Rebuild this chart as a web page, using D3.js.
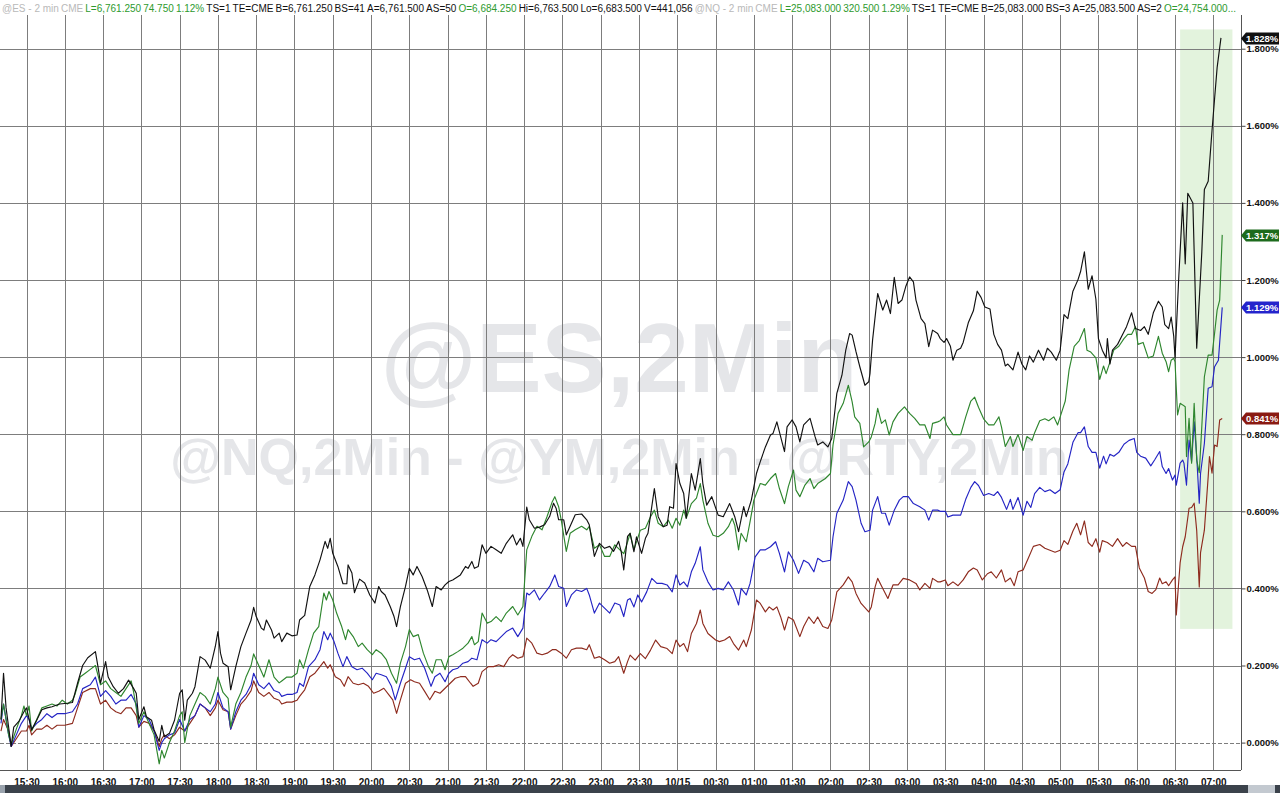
<!DOCTYPE html>
<html><head><meta charset="utf-8">
<script src="https://cdn.jsdelivr.net/npm/d3@7"></script>
<style>html,body{margin:0;padding:0;background:#fff;overflow:hidden}svg{display:block}</style>
</head><body><svg id="c" width="1280" height="793"></svg>
<script>
// time = minutes after 15:30 (2-min bars), value = % change
const esSeries = [[-20,0.06],[-18,0.18],[-16,0.09],[-12,-0.01],[-10,0.04],[-6,0.055],[-2,0.08],[0,0.09],[4,0.033],[8,0.058],[12,0.085],[16,0.09],[20,0.093],[26,0.1],[32,0.102],[36,0.104],[40,0.154],[44,0.2],[48,0.22],[54,0.236],[56,0.197],[58,0.154],[62,0.21],[64,0.17],[68,0.145],[72,0.128],[76,0.14],[80,0.162],[84,0.14],[86,0.128],[88,0.06],[92,0.093],[94,0.067],[98,0.058],[100,0.033],[104,0.003],[106,0.045],[108,0.015],[112,0.024],[116,0.058],[120,0.128],[122,0.137],[124,0.058],[126,0.11],[130,0.128],[132,0.145],[136,0.223],[140,0.214],[144,0.193],[148,0.25],[150,0.288],[152,0.232],[154,0.206],[158,0.197],[160,0.137],[164,0.197],[168,0.249],[172,0.284],[176,0.318],[178,0.351],[180,0.327],[184,0.297],[186,0.292],[188,0.318],[192,0.292],[194,0.271],[198,0.284],[200,0.262],[204,0.284],[208,0.277],[212,0.279],
[214,0.318],[218,0.33],[222,0.405],[226,0.435],[230,0.474],[234,0.522],[236,0.504],[238,0.53],[240,0.491],[244,0.457],[248,0.412],[251,0.412],[252,0.461],[255,0.44],[257,0.389],[261,0.424],[265,0.414],[269,0.383],[273,0.362],[276,0.405],[278,0.392],[281,0.383],[285,0.353],[288,0.327],[290,0.301],[293,0.353],[297,0.405],[300,0.452],[303,0.435],[306,0.457],[310,0.431],[314,0.396],[318,0.353],[321,0.405],[325,0.396],[328,0.409],[331,0.418],[334,0.422],[340,0.435],[344,0.457],[346,0.452],[349,0.47],[351,0.452],[354,0.457],[357,0.513],[360,0.491],[364,0.509],[368,0.5],[372,0.491],[376,0.517],[381,0.539],[384,0.513],[387,0.53],[389,0.509],[392,0.611],[394,0.578],[398,0.556],[402,0.559],[406,0.565],[410,0.587],[413,0.621],[415,0.608],[417,0.578],[421,0.578],[423,0.539],[426,0.561],[430,0.591],[435,0.593],[439,0.578],[441,0.565],[445,0.483],[449,0.517],[453,0.504],[457,0.509],[460,0.496],[464,0.522],[466,0.496],[468,0.448],[471,0.535],
[473,0.543],[476,0.495],[478,0.534],[482,0.491],[485,0.53],[487,0.543],[492,0.659],[495,0.586],[499,0.56],[502,0.564],[504,0.612],[507,0.608],[509,0.724],[512,0.672],[515,0.646],[517,0.582],[521,0.698],[524,0.655],[528,0.737],[530,0.672],[533,0.616],[537,0.638],[542,0.59],[546,0.586],[551,0.62],[555,0.586],[558,0.547],[562,0.612],[564,0.586],[568,0.629],[572,0.698],[575,0.729],[579,0.767],[583,0.798],[585,0.802],[588,0.832],[591,0.793],[594,0.755],[596,0.819],[600,0.837],[603,0.819],[606,0.78],[609,0.824],[614,0.841],[618,0.793],[620,0.772],[624,0.78],[628,0.767],[631,0.789],[635,0.906],[639,0.953],[642,1.018],[645,1.061],[647,1.057],[650,1.014],[653,0.975],[657,0.927],[660,0.936],[661,0.958],[663,1.044],[667,1.165],[671,1.122],[674,1.148],[677,1.113],[680,1.207],[683,1.139],[686,1.148],[689,1.183],[692,1.208],[695,1.195],[697,1.148],[701,1.1],[704,1.087],[707,1.027],[710,1.07],[714,1.061],
[716,1.048],[719,1.038],[721,1.048],[724,1.028],[726,0.992],[729,1.018],[732,1.023],[734,1.038],[738,1.089],[742,1.12],[745,1.171],[748,1.155],[751,1.13],[755,1.125],[758,1.059],[761,1.033],[764,1.018],[767,0.977],[769,0.982],[773,0.967],[777,1.013],[780,0.982],[783,0.967],[786,1.003],[789,0.987],[793,1.018],[797,0.992],[800,1.023],[803,1.013],[807,0.992],[810,1.018],[813,1.11],[816,1.1],[820,1.171],[824,1.201],[826,1.222],[829,1.273],[832,1.176],[835,1.211],[838,1.15],[840,1.048],[843,1.018],[846,0.998],[847,1.048],[849,0.982],[851,1.018],[855,1.033],[859,1.059],[862,1.079],[866,1.115],[869,1.074],[873,1.069],[876,1.079],[879,1.059],[883,1.115],[887,1.145],[890,1.13],[892,1.084],[895,1.074],[897,1.104],[899,1.054],[900,0.998],
[903,1.211],[906,1.4],[908,1.242],[910,1.425],[914,1.4],[917,1.023],[921,1.273],[923,1.435],[926,1.456],[929,1.588],[931,1.67],[933,1.751],[936,1.828]];

const nqSeries = [[-20,0.06],[-18,0.1],[-14,0.02],[-12,-0.005],[-8,0.035],[-4,0.07],[-2,0.095],[0,0.07],[2,0.095],[4,0.03],[8,0.06],[12,0.09],[16,0.095],[20,0.1],[24,0.095],[28,0.11],[32,0.1],[36,0.11],[38,0.125],[42,0.17],[46,0.18],[50,0.19],[54,0.2],[58,0.15],[62,0.16],[66,0.14],[70,0.13],[74,0.12],[78,0.14],[82,0.16],[84,0.13],[88,0.05],[92,0.08],[96,0.05],[100,0.02],[104,-0.055],[106,-0.02],[108,-0.04],[112,0.0],[116,0.03],[120,0.07],[122,0.08],[124,0.0],[128,0.07],[132,0.1],[136,0.13],[140,0.12],[144,0.1],[148,0.14],[150,0.17],[154,0.13],[158,0.115],[160,0.04],[164,0.1],[168,0.13],[172,0.17],[176,0.2],[178,0.23],[182,0.2],[186,0.17],[190,0.215],[194,0.17],[198,0.155],[200,0.16],[204,0.17],[208,0.17],[212,0.18],
[214,0.215],[217,0.193],[221,0.241],[225,0.284],[229,0.301],[233,0.388],[235,0.37],[237,0.392],[240,0.37],[243,0.336],[247,0.301],[250,0.267],[252,0.293],[256,0.275],[260,0.249],[263,0.258],[267,0.241],[271,0.228],[274,0.241],[278,0.232],[282,0.215],[286,0.18],[290,0.154],[293,0.206],[297,0.249],[300,0.293],[303,0.275],[307,0.28],[311,0.232],[315,0.197],[318,0.18],[321,0.215],[325,0.215],[328,0.189],[331,0.223],[334,0.228],[338,0.236],[342,0.245],[346,0.258],[349,0.275],[351,0.254],[354,0.262],[357,0.336],[361,0.31],[364,0.314],[368,0.327],[372,0.314],[376,0.336],[381,0.353],[385,0.331],[389,0.353],[392,0.5],[396,0.535],[400,0.561],[404,0.552],[408,0.587],[412,0.625],[414,0.638],[417,0.612],[419,0.578],[423,0.496],[426,0.543],[430,0.552],[435,0.561],[439,0.552],[441,0.561],[445,0.504],[449,0.513],[453,0.483],[457,0.483],[461,0.513],[465,0.5],[468,0.49],[471,0.52],
[473,0.543],[476,0.5],[481,0.551],[485,0.556],[489,0.586],[492,0.603],[495,0.569],[499,0.56],[503,0.577],[506,0.556],[509,0.582],[512,0.564],[515,0.603],[517,0.582],[521,0.62],[525,0.634],[528,0.672],[530,0.629],[534,0.569],[538,0.538],[542,0.534],[546,0.543],[550,0.56],[553,0.582],[555,0.564],[558,0.5],[560,0.543],[564,0.521],[567,0.573],[570,0.629],[575,0.672],[579,0.668],[583,0.685],[587,0.698],[590,0.659],[594,0.62],[597,0.664],[601,0.707],[603,0.655],[606,0.638],[610,0.668],[614,0.685],[617,0.659],[620,0.672],[626,0.685],[630,0.698],[632,0.772],[636,0.854],[640,0.88],[644,0.927],[647,0.884],[649,0.845],[653,0.828],[656,0.767],[660,0.78],[662,0.793],[665,0.828],[667,0.867],[670,0.828],[673,0.837],[676,0.798],[679,0.832],[683,0.854],[688,0.871],[692,0.854],[696,0.841],[700,0.824],[704,0.824],[708,0.789],[710,0.828],[714,0.832],
[716,0.835],[719,0.845],[721,0.824],[726,0.799],[732,0.799],[736,0.845],[740,0.886],[743,0.896],[746,0.87],[750,0.84],[754,0.824],[758,0.824],[762,0.845],[764,0.819],[767,0.768],[771,0.794],[773,0.768],[777,0.799],[781,0.758],[784,0.794],[788,0.784],[790,0.804],[794,0.835],[798,0.84],[801,0.835],[805,0.845],[808,0.824],[810,0.845],[814,0.886],[817,0.967],[821,1.028],[825,1.043],[829,1.074],[831,1.018],[834,1.013],[838,0.998],[841,0.942],[844,0.977],[846,0.957],[849,0.987],[852,1.018],[856,1.028],[860,1.048],[863,1.059],[866,1.059],[869,1.079],[871,1.033],[875,1.038],[879,0.998],[883,1.003],[887,1.054],[890,1.01],[893,0.988],[895,0.962],[897,0.992],[899,0.997],[900,0.988],
[902,0.85],[904,0.88],[906,0.876],[908,0.871],[909,0.742],[911,0.841],[913,0.725],[915,0.88],[917,0.733],[919,0.7],[921,0.82],[923,0.949],[926,1.005],[929,1.005],[931,1.062],[933,1.122],[935,1.148],[937,1.317]];

const ymSeries = [[-20,0.05],[-18,0.1],[-14,0.02],[-12,-0.01],[-8,0.02],[-4,0.05],[0,0.07],[2,0.06],[4,0.035],[8,0.05],[12,0.06],[16,0.075],[20,0.065],[24,0.075],[30,0.075],[36,0.08],[40,0.1],[44,0.14],[50,0.15],[54,0.17],[58,0.12],[62,0.135],[66,0.12],[70,0.1],[74,0.11],[78,0.11],[82,0.125],[86,0.1],[88,0.04],[92,0.07],[96,0.06],[100,0.03],[104,-0.02],[106,0.0],[108,0.01],[112,0.02],[116,0.025],[120,0.06],[124,0.03],[128,0.06],[132,0.07],[136,0.1],[140,0.09],[144,0.08],[148,0.1],[150,0.13],[154,0.09],[158,0.08],[160,0.035],[164,0.08],[168,0.11],[172,0.125],[176,0.15],[178,0.18],[182,0.15],[186,0.14],[190,0.155],[194,0.135],[198,0.13],[200,0.12],[204,0.125],[208,0.125],[212,0.13],
[214,0.154],[217,0.146],[221,0.197],[226,0.215],[230,0.241],[233,0.288],[236,0.267],[238,0.284],[241,0.262],[244,0.232],[248,0.197],[251,0.223],[255,0.197],[259,0.189],[263,0.193],[267,0.18],[271,0.163],[274,0.18],[278,0.176],[282,0.171],[286,0.146],[289,0.111],[293,0.154],[297,0.193],[300,0.223],[304,0.215],[308,0.219],[312,0.193],[317,0.146],[320,0.171],[324,0.18],[328,0.158],[331,0.18],[334,0.189],[338,0.193],[342,0.206],[346,0.21],[349,0.219],[353,0.215],[357,0.267],[361,0.258],[364,0.267],[368,0.262],[372,0.275],[376,0.288],[381,0.297],[385,0.275],[389,0.297],[392,0.388],[394,0.383],[398,0.396],[402,0.37],[406,0.388],[410,0.405],[414,0.435],[417,0.405],[421,0.4],[423,0.353],[427,0.383],[431,0.396],[435,0.392],[439,0.4],[441,0.383],[445,0.336],[449,0.362],[453,0.349],[457,0.336],[461,0.362],[465,0.357],[468,0.327],[471,0.37],
[473,0.374],[476,0.352],[479,0.383],[482,0.365],[486,0.391],[490,0.426],[494,0.413],[498,0.413],[502,0.409],[506,0.391],[509,0.435],[512,0.409],[515,0.417],[518,0.404],[521,0.443],[524,0.465],[528,0.508],[530,0.448],[534,0.417],[538,0.396],[542,0.4],[546,0.396],[550,0.417],[554,0.396],[558,0.357],[560,0.4],[564,0.383],[567,0.413],[571,0.482],[575,0.5],[579,0.5],[583,0.508],[587,0.521],[590,0.491],[594,0.443],[597,0.495],[601,0.473],[605,0.439],[609,0.473],[613,0.465],[617,0.443],[620,0.478],[624,0.469],[630,0.473],[632,0.534],[635,0.595],[640,0.629],[644,0.677],[647,0.664],[650,0.629],[654,0.569],[657,0.547],[661,0.551],[663,0.603],[667,0.638],[670,0.595],[673,0.595],[676,0.564],[680,0.603],[684,0.629],[687,0.638],[691,0.638],[695,0.62],[700,0.612],[704,0.603],[707,0.577],[710,0.603],[714,0.603],
[716,0.6],[720,0.6],[722,0.585],[726,0.59],[732,0.59],[736,0.631],[740,0.662],[743,0.677],[746,0.667],[750,0.641],[754,0.646],[758,0.641],[761,0.651],[764,0.636],[768,0.605],[771,0.631],[773,0.605],[777,0.636],[781,0.59],[784,0.626],[787,0.61],[790,0.646],[794,0.662],[798,0.651],[802,0.656],[806,0.646],[810,0.656],[813,0.702],[816,0.723],[820,0.779],[824,0.804],[826,0.804],[829,0.819],[832,0.768],[835,0.753],[838,0.753],[841,0.712],[844,0.743],[846,0.723],[849,0.748],[852,0.743],[856,0.753],[860,0.774],[864,0.784],[868,0.789],[870,0.753],[873,0.743],[877,0.738],[881,0.718],[884,0.733],[888,0.755],[890,0.716],[893,0.698],[895,0.711],[898,0.681],[900,0.694],
[901,0.668],[904,0.725],[906,0.733],[907,0.725],[909,0.668],[911,0.785],[913,0.729],[915,0.832],[917,0.742],[919,0.621],[920,0.698],[923,0.776],[926,0.919],[929,0.923],[931,0.975],[934,0.992],[937,1.129]];

const rtySeries = [[-20,0.03],[-18,0.06],[-14,0.03],[-12,-0.01],[-8,0.01],[-4,0.03],[0,0.03],[2,0.045],[4,0.02],[8,0.035],[12,0.035],[16,0.045],[20,0.035],[24,0.045],[30,0.045],[36,0.05],[40,0.09],[44,0.13],[50,0.14],[54,0.14],[58,0.1],[62,0.11],[66,0.09],[70,0.08],[74,0.075],[78,0.09],[82,0.09],[86,0.07],[88,0.04],[92,0.055],[96,0.05],[100,0.03],[104,-0.01],[106,0.01],[108,0.02],[112,0.01],[116,0.02],[120,0.04],[124,0.03],[128,0.05],[132,0.07],[136,0.1],[140,0.09],[144,0.07],[148,0.09],[150,0.11],[154,0.085],[158,0.08],[160,0.035],[164,0.07],[168,0.1],[172,0.115],[176,0.135],[178,0.16],[182,0.13],[186,0.12],[190,0.13],[194,0.115],[198,0.11],[200,0.1],[204,0.105],[208,0.105],[212,0.11],
[214,0.12],[218,0.137],[222,0.171],[226,0.18],[230,0.197],[233,0.21],[236,0.193],[238,0.202],[242,0.171],[246,0.163],[249,0.146],[252,0.171],[256,0.154],[260,0.15],[264,0.154],[268,0.146],[272,0.128],[276,0.133],[280,0.141],[284,0.124],[287,0.111],[290,0.076],[293,0.111],[297,0.154],[301,0.163],[304,0.158],[308,0.154],[312,0.133],[316,0.111],[320,0.133],[324,0.128],[328,0.141],[332,0.154],[336,0.167],[340,0.171],[344,0.171],[348,0.154],[350,0.146],[354,0.154],[357,0.184],[362,0.197],[366,0.197],[370,0.202],[374,0.197],[378,0.219],[381,0.228],[385,0.219],[389,0.223],[392,0.271],[396,0.258],[400,0.232],[404,0.228],[408,0.232],[412,0.241],[415,0.241],[419,0.232],[423,0.219],[427,0.241],[431,0.245],[435,0.245],[439,0.241],[441,0.254],[445,0.219],[449,0.223],[453,0.215],[457,0.206],[461,0.21],[464,0.223],[468,0.18],[471,0.21],
[473,0.227],[477,0.214],[481,0.231],[485,0.218],[489,0.24],[493,0.266],[497,0.249],[502,0.244],[506,0.231],[509,0.266],[512,0.249],[515,0.257],[518,0.236],[521,0.283],[525,0.309],[528,0.344],[530,0.309],[534,0.283],[540,0.266],[543,0.262],[547,0.266],[551,0.275],[554,0.257],[558,0.24],[562,0.266],[564,0.249],[568,0.292],[572,0.37],[575,0.361],[579,0.339],[582,0.352],[585,0.344],[588,0.352],[591,0.326],[594,0.292],[597,0.326],[601,0.318],[606,0.275],[609,0.301],[613,0.326],[617,0.309],[620,0.326],[624,0.301],[628,0.296],[631,0.318],[635,0.391],[640,0.409],[644,0.43],[647,0.417],[650,0.387],[654,0.361],[660,0.339],[662,0.352],[665,0.404],[667,0.426],[671,0.4],[675,0.374],[679,0.409],[683,0.409],[687,0.426],[692,0.422],[697,0.413],[700,0.396],[704,0.413],[708,0.4],[710,0.426],[714,0.417],
[716,0.417],[720,0.422],[722,0.407],[726,0.417],[730,0.407],[734,0.422],[738,0.443],[742,0.453],[745,0.448],[749,0.422],[753,0.438],[756,0.443],[760,0.427],[764,0.448],[767,0.417],[771,0.427],[774,0.407],[777,0.443],[781,0.448],[785,0.478],[789,0.509],[794,0.514],[798,0.504],[802,0.499],[806,0.494],[810,0.499],[813,0.524],[816,0.514],[820,0.549],[823,0.569],[826,0.539],[829,0.575],[832,0.519],[835,0.509],[838,0.529],[841,0.494],[843,0.524],[847,0.519],[851,0.509],[855,0.529],[859,0.509],[862,0.519],[866,0.509],[869,0.509],[872,0.453],[876,0.427],[879,0.392],[882,0.387],[885,0.397],[888,0.427],[890,0.412],[893,0.417],[895,0.407],[898,0.422],[900,0.43],
[901,0.331],[904,0.466],[906,0.508],[908,0.534],[911,0.608],[913,0.61],[915,0.621],[917,0.55],[919,0.404],[920,0.493],[923,0.551],[926,0.69],[927,0.742],[929,0.699],[931,0.772],[933,0.768],[935,0.837],[937,0.841]];

const xTickLabels = ["15:30","16:00","16:30","17:00","17:30","18:00","18:30","19:00","19:30","20:00","20:30","21:00","21:30","22:00","22:30","23:00","23:30","10/15","00:30","01:00","01:30","02:00","02:30","03:00","03:30","04:00","04:30","05:00","05:30","06:00","06:30","07:00"];
const yTicks = [0,0.2,0.4,0.6,0.8,1.0,1.2,1.4,1.6,1.8];
const highlightTime = [904, 945];
const highlightValue = [0.295, 1.85];

const headerTokens = [
 ["@ES - 2 min","g"],["CME","g"],["L=6,761.250","u"],["74.750","u"],["1.12%","u"],["TS=1","k"],["TE=CME","k"],
 ["B=6,761.250","k"],["BS=41","k"],["A=6,761.500","k"],["AS=50","k"],["O=6,684.250","u"],["Hi=6,763.500","k"],
 ["Lo=6,683.500","k"],["V=441,056","k"],["@NQ - 2 min","g"],["CME","g"],["L=25,083.000","u"],["320.500","u"],["1.29%","u"],
 ["TS=1","k"],["TE=CME","k"],["B=25,083.000","k"],["BS=3","k"],["A=25,083.500","k"],["AS=2","k"],["O=24,754.000...","u"]];

const seriesDefs = [
  {data: rtySeries, color: "#8e2b1e", box: "#8a1a12"},
  {data: ymSeries,  color: "#2424c4", box: "#2424cc"},
  {data: nqSeries,  color: "#2e862e", box: "#1d6b1d"},
  {data: esSeries,  color: "#111111", box: "#111111"}
];

const W = 1280, H = 793;
const plotR = 1241, plotT = 15, plotB = 770;
const svg = d3.select("#c");
svg.append("rect").attr("width", W).attr("height", H).attr("fill", "#fff");

const x = d3.scaleLinear().domain([0, 930]).range([26.5, 1213.3]);
const y = d3.scaleLinear().domain([0, 1.8]).range([742.6, 48.7]);

// watermarks
svg.append("text").attr("x", 619).attr("y", 392).attr("text-anchor", "middle")
  .attr("font-family", "Liberation Sans, Arial, sans-serif").attr("font-weight", "bold")
  .attr("font-size", 98).attr("fill", "#e5e6e9").text("@ES,2Min");
svg.append("text").attr("x", 619).attr("y", 475).attr("text-anchor", "middle")
  .attr("font-family", "Liberation Sans, Arial, sans-serif").attr("font-weight", "bold")
  .attr("font-size", 52).attr("fill", "#e5e6e9").text("@NQ,2Min - @YM,2Min - @RTY,2Min");

// highlight box
svg.append("rect")
  .attr("x", x(highlightTime[0])).attr("width", x(highlightTime[1]) - x(highlightTime[0]))
  .attr("y", y(highlightValue[1])).attr("height", y(highlightValue[0]) - y(highlightValue[1]))
  .attr("fill", "#e3f3dd");

// grid
const xTickVals = xTickLabels.map((d, i) => i * 30);
const grid = svg.append("g");
grid.selectAll("line.v").data(xTickVals).join("line")
  .attr("x1", d => Math.round(x(d)) + 0.5).attr("x2", d => Math.round(x(d)) + 0.5)
  .attr("y1", plotT).attr("y2", plotB).attr("stroke", "#7d7d7d").attr("stroke-width", 1);
grid.selectAll("line.h").data(yTicks).join("line")
  .attr("x1", 0).attr("x2", plotR)
  .attr("y1", d => Math.round(y(d)) + 0.5).attr("y2", d => Math.round(y(d)) + 0.5)
  .attr("stroke", "#7d7d7d").attr("stroke-width", 1)
  .attr("stroke-dasharray", d => d === 0 ? "4,2" : null);

// lines
const clip = svg.append("clipPath").attr("id", "pc");
clip.append("rect").attr("x", 0).attr("y", plotT).attr("width", plotR).attr("height", plotB - plotT);
const line = d3.line().x(d => x(d[0])).y(d => y(d[1]));
const lg = svg.append("g").attr("clip-path", "url(#pc)");
seriesDefs.forEach(s => {
  lg.append("path").datum(s.data).attr("d", line).attr("fill", "none")
    .attr("stroke", s.color).attr("stroke-width", 1.15).attr("stroke-linejoin", "round");
});

// right axis
svg.append("line").attr("x1", plotR + 0.5).attr("x2", plotR + 0.5).attr("y1", plotT).attr("y2", plotB)
  .attr("stroke", "#555").attr("stroke-width", 1);
const ra = svg.append("g").attr("transform", `translate(${plotR + 0.5},0)`);
const yAxis = d3.axisRight(y).tickValues(yTicks).tickSize(4).tickPadding(1)
  .tickFormat(d => d.toFixed(3) + "%");
ra.call(yAxis);
ra.select(".domain").remove();
ra.selectAll(".tick line").attr("stroke", "#444");
ra.selectAll(".tick text").attr("font-family", "Liberation Sans, Arial, sans-serif")
  .attr("font-size", 9.5).attr("font-weight", "bold").attr("fill", "#111");

// bottom axis
svg.append("line").attr("x1", 0).attr("x2", plotR).attr("y1", plotB + 0.5).attr("y2", plotB + 0.5)
  .attr("stroke", "#555");
const ba = svg.append("g").attr("transform", `translate(0,${plotB})`);
const xAxis = d3.axisBottom(x).tickValues(xTickVals).tickSize(0).tickPadding(9)
  .tickFormat((d, i) => xTickLabels[i]);
ba.call(xAxis);
ba.select(".domain").remove();
ba.selectAll(".tick text").attr("font-family", "Liberation Sans, Arial, sans-serif")
  .attr("font-size", 10).attr("font-weight", "bold").attr("fill", "#111");

// last value labels
seriesDefs.forEach(s => {
  const last = s.data[s.data.length - 1][1];
  const cy = Math.round(y(last)) + 0.5;
  const g = svg.append("g");
  g.append("path").attr("d", `M${plotR},${cy} L${plotR + 5},${cy - 6} L1279,${cy - 6} L1279,${cy + 6} L${plotR + 5},${cy + 6} Z`)
    .attr("fill", s.box);
  g.append("text").attr("x", plotR + 5).attr("y", cy + 3.5).attr("font-family", "Liberation Sans, Arial, sans-serif")
    .attr("font-size", 9.5).attr("font-weight", "bold").attr("fill", "#fff").text(last.toFixed(3) + "%");
});

// bottom scrollbar
svg.append("rect").attr("x", 0).attr("y", 785).attr("width", W).attr("height", 8).attr("fill", "#3b424b");
svg.append("rect").attr("x", 0).attr("y", 785).attr("width", 5).attr("height", 8).attr("fill", "#9aa3ad");
svg.append("rect").attr("x", 1248).attr("y", 785).attr("width", 27).attr("height", 8).attr("fill", "#c3c9d0");

// header
const colors = {g: "#b9b9b9", u: "#2e9a2e", k: "#111"};
const hg = svg.append("g");
const texts = headerTokens.map(t => hg.append("text").attr("y", 11.5)
  .attr("font-family", "Liberation Sans, Arial, sans-serif").attr("font-size", 10)
  .attr("fill", colors[t[1]]).text(t[0]));
const widths = texts.map(t => t.node().getComputedTextLength());
const total = d3.sum(widths);
const gap = (1236 - 2 - total) / (texts.length - 1);
let cx = 2;
texts.forEach((t, i) => { t.attr("x", cx); cx += widths[i] + gap; });
</script></body></html>
